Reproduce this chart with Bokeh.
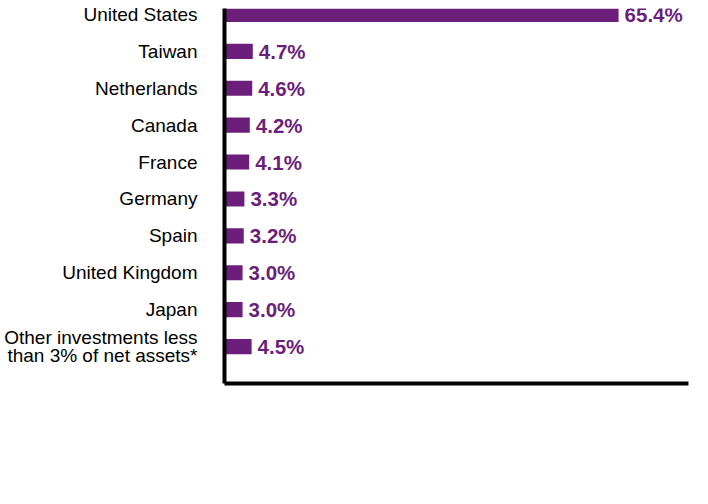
from bokeh.plotting import figure
from bokeh.models import Range1d, FixedTicker, ColumnDataSource
from bokeh.core.properties import value
from bokeh.embed import file_html
from bokeh.resources import INLINE

categories = ["United States", "Taiwan", "Netherlands", "Canada", "France",
              "Germany", "Spain", "United Kingdom", "Japan",
              "Other investments less\nthan 3% of net assets*"]
values = [65.4, 4.7, 4.6, 4.2, 4.1, 3.3, 3.2, 3.0, 3.0, 4.5]
value_labels = ["65.4%", "4.7%", "4.6%", "4.2%", "4.1%", "3.3%", "3.2%", "3.0%", "3.0%", "4.5%"]

n = len(categories)
ypos = [n - 1 - i for i in range(n)]
src = ColumnDataSource(dict(y=ypos, v=values, lab=value_labels))

PURPLE = "#6B1F7B"
FONT = "Liberation Sans"

p = figure(width=700, height=496, output_backend="svg", toolbar_location=None,
           x_range=Range1d(0, 77), y_range=Range1d(-1.0, 9.16),
           min_border_left=224, min_border_right=12, min_border_top=8,
           min_border_bottom=113)
p.outline_line_color = None
p.xgrid.grid_line_color = None
p.ygrid.grid_line_color = None

p.hbar(y="y", left=0, right="v", height=0.41, source=src,
       fill_color=PURPLE, line_color=None)
p.text(x="v", y="y", text="lab", source=src, x_offset=6,
       text_baseline="middle", text_align="left",
       text_font=value(FONT), text_font_style="bold",
       text_font_size="20.5px", text_color=PURPLE)

p.xaxis.axis_line_width = 4
p.xaxis.axis_line_color = "black"
p.xaxis.major_tick_line_color = None
p.xaxis.minor_tick_line_color = None
p.xaxis.major_label_text_font_size = "0px"
p.xaxis.major_label_text_color = None

p.yaxis.axis_line_width = 4
p.yaxis.axis_line_color = "black"
p.yaxis.major_tick_line_color = None
p.yaxis.minor_tick_line_color = None
p.yaxis.ticker = FixedTicker(ticks=ypos)
p.yaxis.major_label_overrides = {y: c for y, c in zip(ypos, categories)}
p.yaxis.major_label_text_font = FONT
p.yaxis.major_label_text_font_size = "19px"
p.yaxis.major_label_text_line_height = 0.88
p.yaxis.major_label_text_color = "black"
p.yaxis.major_label_standoff = 21

open("out.html", "w").write(file_html(p, INLINE))
